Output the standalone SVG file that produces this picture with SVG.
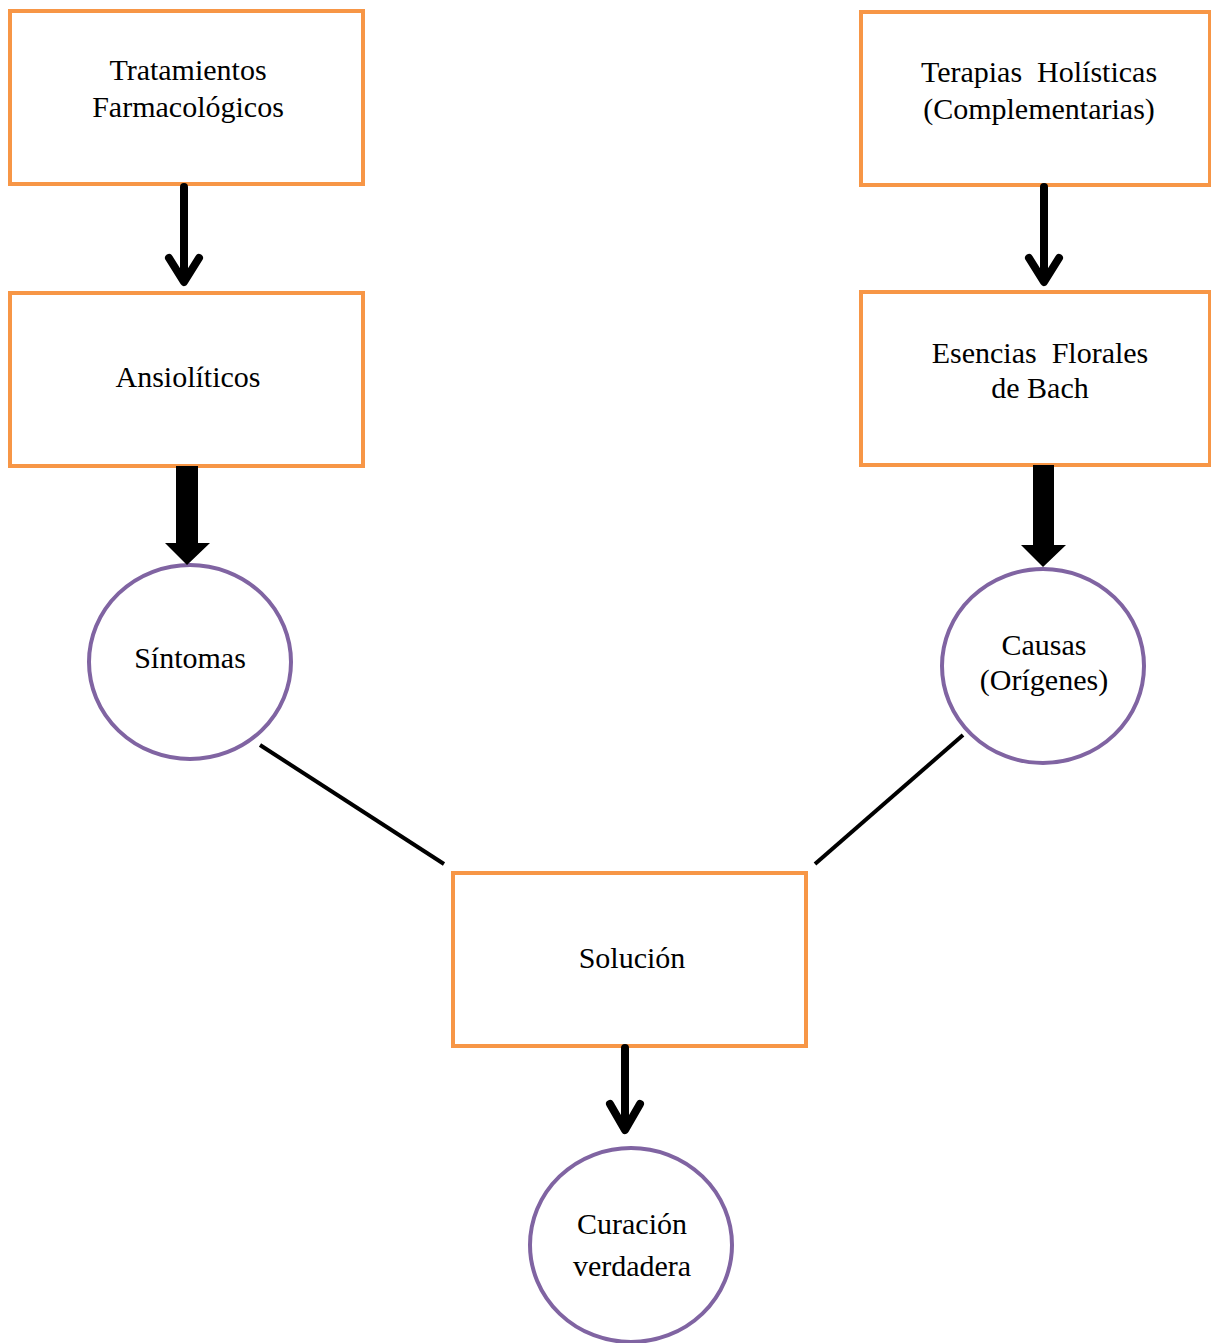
<svg xmlns="http://www.w3.org/2000/svg" width="1211" height="1343" viewBox="0 0 1211 1343">
<style>
.box{fill:#fff;stroke:#F79646;stroke-width:4}
.circ{fill:#fff;stroke:#8064A2;stroke-width:4}
.t{font-family:"Liberation Serif","Times New Roman",serif;font-size:30px;fill:#000;text-anchor:middle;white-space:pre}
.thin{fill:none;stroke:#000;stroke-width:8;stroke-linecap:round;stroke-linejoin:round}
.line{stroke:#000;stroke-width:4;fill:none}
</style>
<rect width="1211" height="1343" fill="#fff"/>
<g id="n1"><rect class="box" x="10" y="11" width="353" height="173"/><text class="t" x="188" y="80">Tratamientos</text><text class="t" x="188" y="117">Farmacológicos</text></g>
<g id="n2"><rect class="box" x="861" y="12" width="349" height="173"/><text class="t" x="1039" y="82" xml:space="preserve">Terapias  Holísticas</text><text class="t" x="1039" y="119">(Complementarias)</text></g>
<g id="n3"><rect class="box" x="10" y="293" width="353" height="173"/><text class="t" x="188" y="387">Ansiolíticos</text></g>
<g id="n4"><rect class="box" x="861" y="292" width="349" height="173"/><text class="t" x="1040" y="363" xml:space="preserve">Esencias  Florales</text><text class="t" x="1040" y="398">de Bach</text></g>
<g id="n5"><ellipse class="circ" cx="190" cy="662" rx="101" ry="97"/><text class="t" x="190" y="668">Síntomas</text></g>
<g id="n6"><ellipse class="circ" cx="1043" cy="666" rx="101" ry="97"/><text class="t" x="1044" y="655">Causas</text><text class="t" x="1044" y="690">(Orígenes)</text></g>
<g id="n7"><rect class="box" x="453" y="873" width="353" height="173"/><text class="t" x="632" y="968">Solución</text></g>
<g id="n8"><ellipse class="circ" cx="631" cy="1245" rx="101" ry="97"/><text class="t" x="632" y="1234">Curación</text><text class="t" x="632" y="1276">verdadera</text></g>
<g id="connectors">
<path class="thin" d="M184 187 V280 M169 258 L184 282 L199 258"/>
<path class="thin" d="M1044 187 V280 M1029 258 L1044 282 L1059 258"/>
<path class="thin" d="M625 1048 V1128 M610 1104 L625 1130 L640 1104"/>
<path d="M176 466 H198 V543 H210 L187 565 L165 543 H176 Z" fill="#000"/>
<path d="M1033 465 H1054 V545 H1066 L1043 567 L1021 545 H1033 Z" fill="#000"/>
<line class="line" x1="260" y1="745" x2="444" y2="864"/>
<line class="line" x1="963" y1="735" x2="815" y2="864"/>
</g>
</svg>
